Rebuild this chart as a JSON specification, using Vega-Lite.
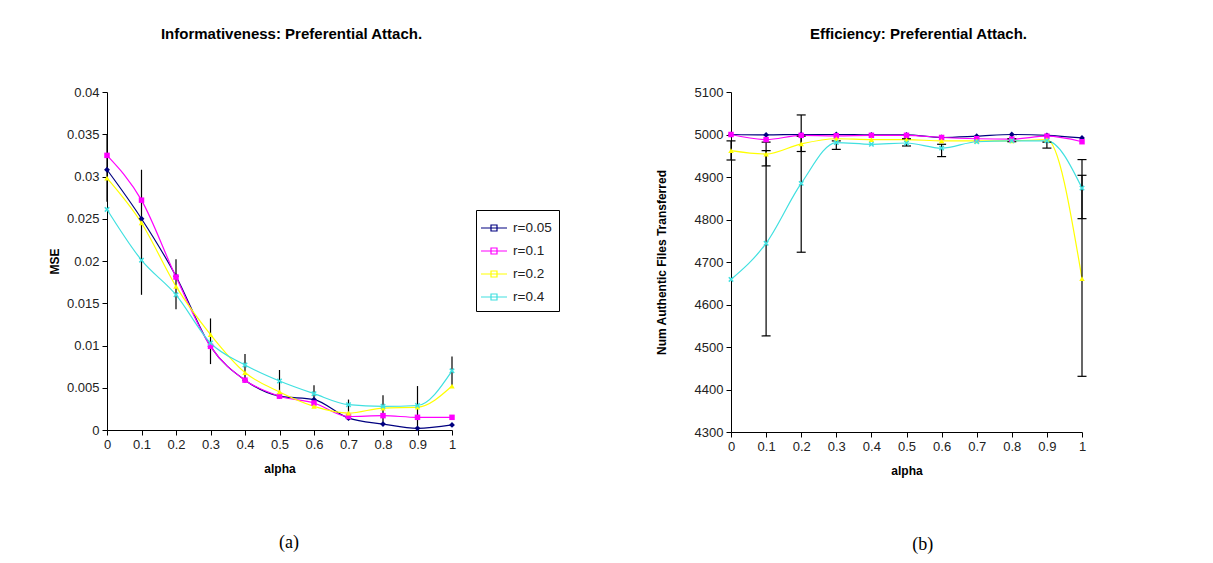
{
  "$schema": "https://vega.github.io/schema/vega-lite/v6.json",
  "background": "white",
  "padding": {"left": 48, "top": 27, "right": 0, "bottom": 0},
  "config": {
    "view": {"stroke": null},
    "font": "Liberation Sans",
    "axis": {"grid": false, "domainColor": "black", "tickColor": "black", "tickSize": 5, "labelPadding": 3, "labelFont": "Liberation Sans", "labelFontSize": 13, "labelColor": "#222222", "titleFont": "Liberation Sans", "titleFontSize": 12, "titleFontWeight": "bold", "titleColor": "black", "domainWidth": 1, "labelFlush": false, "labelOverlap": false},
    "title": {"font": "Liberation Sans", "fontSize": 15, "fontWeight": "bold", "color": "black"},
    "legend": {"labelFont": "Liberation Sans", "labelFontSize": 13.5, "labelColor": "#222222", "strokeColor": "black", "padding": 7, "symbolSize": 400, "rowPadding": 5, "labelOffset": 8, "fillColor": "white", "symbolStrokeWidth": 1.2, "symbolType": "M-1.3,0H1.3M-0.3,-0.3H0.3V0.3H-0.3Z"}
  },
  "datasets": {
    "mse": [
      {"alpha": 0, "r": "r=0.05", "v": 0.0308}, {"alpha": 0.1, "r": "r=0.05", "v": 0.025}, {"alpha": 0.2, "r": "r=0.05", "v": 0.0182}, {"alpha": 0.3, "r": "r=0.05", "v": 0.0099}, {"alpha": 0.4, "r": "r=0.05", "v": 0.0059}, {"alpha": 0.5, "r": "r=0.05", "v": 0.004}, {"alpha": 0.6, "r": "r=0.05", "v": 0.0036}, {"alpha": 0.7, "r": "r=0.05", "v": 0.0014}, {"alpha": 0.8, "r": "r=0.05", "v": 0.0007}, {"alpha": 0.9, "r": "r=0.05", "v": 0.0002}, {"alpha": 1, "r": "r=0.05", "v": 0.0006},
      {"alpha": 0, "r": "r=0.1", "v": 0.0325}, {"alpha": 0.1, "r": "r=0.1", "v": 0.0272}, {"alpha": 0.2, "r": "r=0.1", "v": 0.0181}, {"alpha": 0.3, "r": "r=0.1", "v": 0.0099}, {"alpha": 0.4, "r": "r=0.1", "v": 0.0059}, {"alpha": 0.5, "r": "r=0.1", "v": 0.004}, {"alpha": 0.6, "r": "r=0.1", "v": 0.0032}, {"alpha": 0.7, "r": "r=0.1", "v": 0.0016}, {"alpha": 0.8, "r": "r=0.1", "v": 0.0017}, {"alpha": 0.9, "r": "r=0.1", "v": 0.0015}, {"alpha": 1, "r": "r=0.1", "v": 0.0015},
      {"alpha": 0, "r": "r=0.2", "v": 0.0298}, {"alpha": 0.1, "r": "r=0.2", "v": 0.0245}, {"alpha": 0.2, "r": "r=0.2", "v": 0.017}, {"alpha": 0.3, "r": "r=0.2", "v": 0.0113}, {"alpha": 0.4, "r": "r=0.2", "v": 0.0068}, {"alpha": 0.5, "r": "r=0.2", "v": 0.0045}, {"alpha": 0.6, "r": "r=0.2", "v": 0.0028}, {"alpha": 0.7, "r": "r=0.2", "v": 0.002}, {"alpha": 0.8, "r": "r=0.2", "v": 0.0026}, {"alpha": 0.9, "r": "r=0.2", "v": 0.0027}, {"alpha": 1, "r": "r=0.2", "v": 0.0052},
      {"alpha": 0, "r": "r=0.4", "v": 0.0261}, {"alpha": 0.1, "r": "r=0.4", "v": 0.0201}, {"alpha": 0.2, "r": "r=0.4", "v": 0.016}, {"alpha": 0.3, "r": "r=0.4", "v": 0.0103}, {"alpha": 0.4, "r": "r=0.4", "v": 0.0077}, {"alpha": 0.5, "r": "r=0.4", "v": 0.0058}, {"alpha": 0.6, "r": "r=0.4", "v": 0.0043}, {"alpha": 0.7, "r": "r=0.4", "v": 0.003}, {"alpha": 0.8, "r": "r=0.4", "v": 0.0028}, {"alpha": 0.9, "r": "r=0.4", "v": 0.0029}, {"alpha": 1, "r": "r=0.4", "v": 0.007}
    ],
    "mseErr": [
      {"alpha": 0, "lo": 0.027, "hi": 0.035}, {"alpha": 0.1, "lo": 0.016, "hi": 0.0308}, {"alpha": 0.2, "lo": 0.0143, "hi": 0.0202}, {"alpha": 0.3, "lo": 0.0078, "hi": 0.0132}, {"alpha": 0.4, "lo": 0.006, "hi": 0.009}, {"alpha": 0.5, "lo": 0.004, "hi": 0.0071}, {"alpha": 0.6, "lo": 0.0032, "hi": 0.0053}, {"alpha": 0.7, "lo": 0.0012, "hi": 0.0036}, {"alpha": 0.8, "lo": 0.0008, "hi": 0.0041}, {"alpha": 0.9, "lo": 0.0003, "hi": 0.0052}, {"alpha": 1, "lo": 0.0052, "hi": 0.0087}
    ],
    "files": [
      {"alpha": 0, "r": "r=0.05", "v": 5000}, {"alpha": 0.1, "r": "r=0.05", "v": 4999}, {"alpha": 0.2, "r": "r=0.05", "v": 5000}, {"alpha": 0.3, "r": "r=0.05", "v": 5000}, {"alpha": 0.4, "r": "r=0.05", "v": 4999}, {"alpha": 0.5, "r": "r=0.05", "v": 4999}, {"alpha": 0.6, "r": "r=0.05", "v": 4993}, {"alpha": 0.7, "r": "r=0.05", "v": 4996}, {"alpha": 0.8, "r": "r=0.05", "v": 5000}, {"alpha": 0.9, "r": "r=0.05", "v": 4998}, {"alpha": 1, "r": "r=0.05", "v": 4992},
      {"alpha": 0, "r": "r=0.1", "v": 5000}, {"alpha": 0.1, "r": "r=0.1", "v": 4988}, {"alpha": 0.2, "r": "r=0.1", "v": 4998}, {"alpha": 0.3, "r": "r=0.1", "v": 4997}, {"alpha": 0.4, "r": "r=0.1", "v": 4998}, {"alpha": 0.5, "r": "r=0.1", "v": 4998}, {"alpha": 0.6, "r": "r=0.1", "v": 4993}, {"alpha": 0.7, "r": "r=0.1", "v": 4990}, {"alpha": 0.8, "r": "r=0.1", "v": 4989}, {"alpha": 0.9, "r": "r=0.1", "v": 4996}, {"alpha": 1, "r": "r=0.1", "v": 4983},
      {"alpha": 0, "r": "r=0.2", "v": 4962}, {"alpha": 0.1, "r": "r=0.2", "v": 4954}, {"alpha": 0.2, "r": "r=0.2", "v": 4978}, {"alpha": 0.3, "r": "r=0.2", "v": 4990}, {"alpha": 0.4, "r": "r=0.2", "v": 4988}, {"alpha": 0.5, "r": "r=0.2", "v": 4988}, {"alpha": 0.6, "r": "r=0.2", "v": 4985}, {"alpha": 0.7, "r": "r=0.2", "v": 4985}, {"alpha": 0.8, "r": "r=0.2", "v": 4985}, {"alpha": 0.9, "r": "r=0.2", "v": 4988}, {"alpha": 1, "r": "r=0.2", "v": 4661},
      {"alpha": 0, "r": "r=0.4", "v": 4659}, {"alpha": 0.1, "r": "r=0.4", "v": 4744}, {"alpha": 0.2, "r": "r=0.4", "v": 4885}, {"alpha": 0.3, "r": "r=0.4", "v": 4981}, {"alpha": 0.4, "r": "r=0.4", "v": 4977}, {"alpha": 0.5, "r": "r=0.4", "v": 4980}, {"alpha": 0.6, "r": "r=0.4", "v": 4968}, {"alpha": 0.7, "r": "r=0.4", "v": 4983}, {"alpha": 0.8, "r": "r=0.4", "v": 4985}, {"alpha": 0.9, "r": "r=0.4", "v": 4985}, {"alpha": 1, "r": "r=0.4", "v": 4874}
    ],
    "filesErr": [
      {"alpha": 0, "lo": 4940, "hi": 4985}, {"alpha": 0.1, "lo": 4926, "hi": 4982}, {"alpha": 0.1, "lo": 4526, "hi": 4962}, {"alpha": 0.2, "lo": 4960, "hi": 4996}, {"alpha": 0.2, "lo": 4723, "hi": 5046}, {"alpha": 0.3, "lo": 4965, "hi": 4985}, {"alpha": 0.5, "lo": 4973, "hi": 4990}, {"alpha": 0.6, "lo": 4948, "hi": 4977}, {"alpha": 0.8, "lo": 4983, "hi": 4990}, {"alpha": 0.9, "lo": 4968, "hi": 4982}, {"alpha": 1, "lo": 4431, "hi": 4904}, {"alpha": 1, "lo": 4802, "hi": 4941}
    ]
  },
  "spacing": 199,
  "hconcat": [
    {
      "title": {"text": "(a)", "orient": "bottom", "font": "Liberation Serif", "fontSize": 18, "fontWeight": "normal", "offset": 60, "anchor": "middle", "dx": 37},
      "vconcat": [
        {
          "width": 345,
          "height": 338,
          "title": {"text": "Informativeness: Preferential Attach.", "offset": 44, "anchor": "middle", "frame": "group", "dx": 12},
          "encoding": {
            "x": {"field": "alpha", "type": "quantitative", "scale": {"domain": [0, 1], "nice": false, "zero": false}, "axis": {"title": "alpha", "values": [0, 0.1, 0.2, 0.3, 0.4, 0.5, 0.6, 0.7, 0.8, 0.9, 1], "format": ".1~f", "titlePadding": 12}},
            "y": {"field": "v", "type": "quantitative", "scale": {"domain": [0, 0.04], "nice": false}, "axis": {"title": "MSE", "values": [0, 0.005, 0.01, 0.015, 0.02, 0.025, 0.03, 0.035, 0.04], "format": ".3~f", "titlePadding": 5}}
          },
          "layer": [
            {
              "data": {"name": "mse"},
              "mark": {"type": "line", "interpolate": "monotone", "strokeWidth": 1.2},
              "encoding": {
                "color": {"field": "r", "type": "nominal", "scale": {"domain": ["r=0.05", "r=0.1", "r=0.2", "r=0.4"], "range": ["#000080", "#FF00FF", "#FFFF00", "#40E0E0"]},
                  "legend": {"title": null, "orient": "none", "legendX": 369, "legendY": 118}}
              }
            },
            {
              "data": {"name": "mseErr"},
              "mark": {"type": "rule", "color": "black", "strokeWidth": 1.2},
              "encoding": {
                "y": {"field": "lo", "type": "quantitative"},
                "y2": {"field": "hi"}
              }
            },
            {"data": {"name": "mse"}, "transform": [{"filter": "datum.r == 'r=0.05'"}], "mark": {"type": "point", "filled": true, "opacity": 1, "size": 34, "shape": "diamond", "color": "#000080"}},
            {"data": {"name": "mse"}, "transform": [{"filter": "datum.r == 'r=0.1'"}], "mark": {"type": "point", "filled": true, "opacity": 1, "size": 30, "shape": "square", "color": "#FF00FF"}},
            {"data": {"name": "mse"}, "transform": [{"filter": "datum.r == 'r=0.2'"}], "mark": {"type": "point", "filled": true, "opacity": 1, "size": 30, "shape": "triangle-up", "color": "#FFFF00"}},
            {"data": {"name": "mse"}, "transform": [{"filter": "datum.r == 'r=0.4'"}], "mark": {"type": "point", "filled": true, "opacity": 1, "size": 30, "shape": "M-1,-0.6L-0.6,-1L0,-0.4L0.6,-1L1,-0.6L0.4,0L1,0.6L0.6,1L0,0.4L-0.6,1L-1,0.6L-0.4,0Z", "color": "#40E0E0"}}
          ]
        }
      ]
    },
    {
      "title": {"text": "(b)", "orient": "bottom", "font": "Liberation Serif", "fontSize": 18, "fontWeight": "normal", "offset": 60, "anchor": "middle", "dx": 52},
      "vconcat": [
        {
          "width": 351,
          "height": 340,
          "title": {"text": "Efficiency: Preferential Attach.", "offset": 44, "anchor": "middle", "frame": "group", "dx": 12},
          "encoding": {
            "x": {"field": "alpha", "type": "quantitative", "scale": {"domain": [0, 1], "nice": false, "zero": false}, "axis": {"title": "alpha", "values": [0, 0.1, 0.2, 0.3, 0.4, 0.5, 0.6, 0.7, 0.8, 0.9, 1], "format": ".1~f", "titlePadding": 12}},
            "y": {"field": "v", "type": "quantitative", "scale": {"domain": [4300, 5100], "nice": false, "zero": false}, "axis": {"title": "Num Authentic Files Transferred", "values": [4300, 4400, 4500, 4600, 4700, 4800, 4900, 5000, 5100], "format": "d", "titlePadding": 26}}
          },
          "layer": [
            {
              "data": {"name": "files"},
              "mark": {"type": "line", "interpolate": "monotone", "strokeWidth": 1.2},
              "encoding": {
                "color": {"field": "r", "type": "nominal", "scale": {"domain": ["r=0.05", "r=0.1", "r=0.2", "r=0.4"], "range": ["#000080", "#FF00FF", "#FFFF00", "#40E0E0"]},
                  "legend": {"title": null, "orient": "none", "legendX": 377, "legendY": 118}}
              }
            },
            {
              "data": {"name": "filesErr"},
              "mark": {"type": "rule", "color": "black", "strokeWidth": 1.2},
              "encoding": {
                "y": {"field": "lo", "type": "quantitative"},
                "y2": {"field": "hi"}
              }
            },
            {
              "data": {"name": "filesErr"},
              "mark": {"type": "tick", "orient": "horizontal", "color": "black", "size": 9, "thickness": 1.2, "opacity": 1},
              "encoding": {"y": {"field": "lo", "type": "quantitative"}}
            },
            {
              "data": {"name": "filesErr"},
              "mark": {"type": "tick", "orient": "horizontal", "color": "black", "size": 9, "thickness": 1.2, "opacity": 1},
              "encoding": {"y": {"field": "hi", "type": "quantitative"}}
            },
            {"data": {"name": "files"}, "transform": [{"filter": "datum.r == 'r=0.05'"}], "mark": {"type": "point", "filled": true, "opacity": 1, "size": 34, "shape": "diamond", "color": "#000080"}},
            {"data": {"name": "files"}, "transform": [{"filter": "datum.r == 'r=0.1'"}], "mark": {"type": "point", "filled": true, "opacity": 1, "size": 30, "shape": "square", "color": "#FF00FF"}},
            {"data": {"name": "files"}, "transform": [{"filter": "datum.r == 'r=0.2'"}], "mark": {"type": "point", "filled": true, "opacity": 1, "size": 30, "shape": "triangle-up", "color": "#FFFF00"}},
            {"data": {"name": "files"}, "transform": [{"filter": "datum.r == 'r=0.4'"}], "mark": {"type": "point", "filled": true, "opacity": 1, "size": 30, "shape": "M-1,-0.6L-0.6,-1L0,-0.4L0.6,-1L1,-0.6L0.4,0L1,0.6L0.6,1L0,0.4L-0.6,1L-1,0.6L-0.4,0Z", "color": "#40E0E0"}}
          ]
        }
      ]
    }
  ]
}
